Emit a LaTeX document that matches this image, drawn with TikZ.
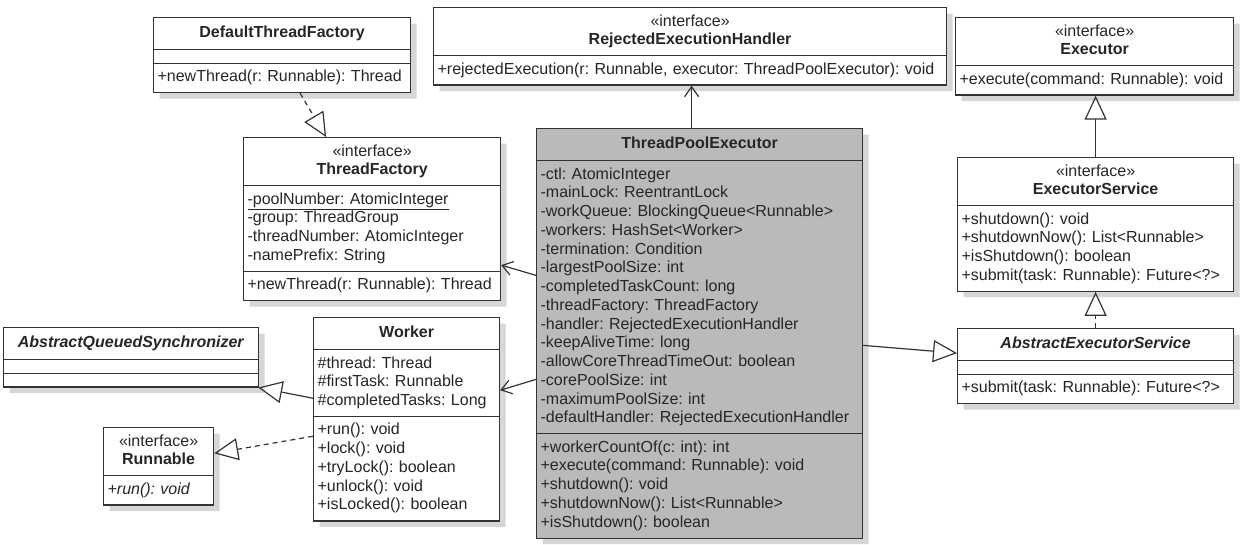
\documentclass[tikz,border=0pt]{standalone}
\usepackage{fontspec}
\setmainfont{Liberation Sans}
\usetikzlibrary{shapes.multipart,arrows.meta,shadows}

\newcommand{\umlfont}{\fontsize{16}{18.75}\selectfont\frenchspacing}
\newcommand{\titlestrut}{\rule[-7pt]{0pt}{21.5pt}}
\newcommand{\emptypart}{\rule{0pt}{3pt}}
\newcommand{\umltitle}[1]{\centering#1\par}

\tikzset{
  umlclass/.style={rectangle split, rectangle split parts=3, anchor=north west,
    draw=black!80, line width=1.2pt, fill=white, text=black!85, font=\umlfont,
    inner xsep=4pt, inner ysep=4.7pt,
    drop shadow={shadow xshift=6pt, shadow yshift=-6pt, fill=black!16, opacity=1}},
  umliface/.style={umlclass, rectangle split parts=2},
  assoc/.style={draw=black!80, line width=1.2pt, -{Straight Barb[length=10pt,width=14pt]}},
  inherit/.style={draw=black!80, line width=1.2pt, -{Triangle[open,length=24pt,width=22pt]}},
  realize/.style={inherit, dash pattern=on 5pt off 4pt}
}

\begin{document}
\begin{tikzpicture}[x=1pt,y=-1pt]
  \useasboundingbox (0,0) rectangle (1242,544);

  % left column
  \node[umlclass, text width=249pt] (dtf) at (153,17)
    {\umltitle{\titlestrut\textbf{DefaultThreadFactory}}
     \nodepart{two}\emptypart
     \nodepart{three}\strut+newThread(r: Runnable): Thread};
  \node[umlclass, text width=249pt] (tf) at (243,137)
    {\umltitle{\strut«interface»\\\textbf{ThreadFactory}\strut}
     \nodepart{two}\strut\underline{-poolNumber: AtomicInteger}\\-group: ThreadGroup\\
       -threadNumber: AtomicInteger\\-namePrefix: String\strut
     \nodepart{three}\strut+newThread(r: Runnable): Thread};
  \node[umlclass, text width=247pt] (aqs) at (3,327)
    {\umltitle{\titlestrut\textbf{\textit{AbstractQueuedSynchronizer}}}
     \nodepart{two}\emptypart
     \nodepart{three}\emptypart};
  \node[umliface, text width=102pt] (run) at (103,427)
    {\umltitle{\strut«interface»\\\textbf{Runnable}\strut}
     \nodepart{two}\strut\textit{+run(): void}};
  \node[umlclass, text width=178pt] (worker) at (313,317)
    {\umltitle{\titlestrut\textbf{Worker}}
     \nodepart{two}\strut\#thread: Thread\\\#firstTask: Runnable\\
       \#completedTasks: Long\strut
     \nodepart{three}\strut+run(): void\\+lock(): void\\+tryLock(): boolean\\
       +unlock(): void\\+isLocked(): boolean\strut};

  % middle
  \node[umliface, text width=505pt] (reh) at (433,7)
    {\umltitle{\strut«interface»\\\textbf{RejectedExecutionHandler}\strut}
     \nodepart{two}\strut+rejectedExecution(r: Runnable, executor: ThreadPoolExecutor): void};
  \node[umlclass, text width=318pt, fill=black!27] (tpe) at (536,128)
    {\umltitle{\titlestrut\textbf{ThreadPoolExecutor}}
     \nodepart{two}\strut-ctl: AtomicInteger\\-mainLock: ReentrantLock\\
       -workQueue: BlockingQueue<Runnable>\\-workers: HashSet<Worker>\\
       -termination: Condition\\-largestPoolSize: int\\
       -completedTaskCount: long\\-threadFactory: ThreadFactory\\
       -handler: RejectedExecutionHandler\\-keepAliveTime: long\\
       -allowCoreThreadTimeOut: boolean\\-corePoolSize: int\\
       -maximumPoolSize: int\\-defaultHandler: RejectedExecutionHandler\strut
     \nodepart{three}\strut+workerCountOf(c: int): int\\
       +execute(command: Runnable): void\\+shutdown(): void\\
       +shutdownNow(): List<Runnable>\\+isShutdown(): boolean\strut};

  % right column
  \node[umliface, text width=270pt] (exec) at (955,17)
    {\umltitle{\strut«interface»\\\textbf{Executor}\strut}
     \nodepart{two}\strut+execute(command: Runnable): void};
  \node[umliface, text width=268pt] (es) at (957,157)
    {\umltitle{\strut«interface»\\\textbf{ExecutorService}\strut}
     \nodepart{two}\strut+shutdown(): void\\+shutdownNow(): List<Runnable>\\
       +isShutdown(): boolean\\+submit(task: Runnable): Future<?>\strut};
  \node[umlclass, text width=268pt] (aes) at (957,328)
    {\umltitle{\titlestrut\textbf{\textit{AbstractExecutorService}}}
     \nodepart{two}\emptypart
     \nodepart{three}\strut+submit(task: Runnable): Future<?>};

  % relations
  \draw[realize] ([xshift=18pt]dtf.south) -- ([xshift=-46pt]tf.north);
  \draw[assoc] ([xshift=-8pt]tpe.north) -- ([xshift=-8pt]tpe.north |- reh.south);
  \draw[assoc] ([yshift=58pt]tpe.west) -- ([yshift=-46pt]tf.east);
  \draw[assoc] ([yshift=-46pt]tpe.west) -- ([yshift=29pt]worker.east);
  \draw[inherit] ([yshift=21pt]worker.west) -- ([xshift=-1pt]aqs.south east);
  \draw[realize] ([yshift=-17pt]worker.west) -- ([yshift=13pt]run.east);
  \draw[inherit] ([yshift=-12pt]tpe.east) -- ([yshift=13pt]aes.west);
  \draw[realize] (aes.north) -- (es.south);
  \draw[inherit] (es.north) -- (es.north |- exec.south);
\end{tikzpicture}
\end{document}
